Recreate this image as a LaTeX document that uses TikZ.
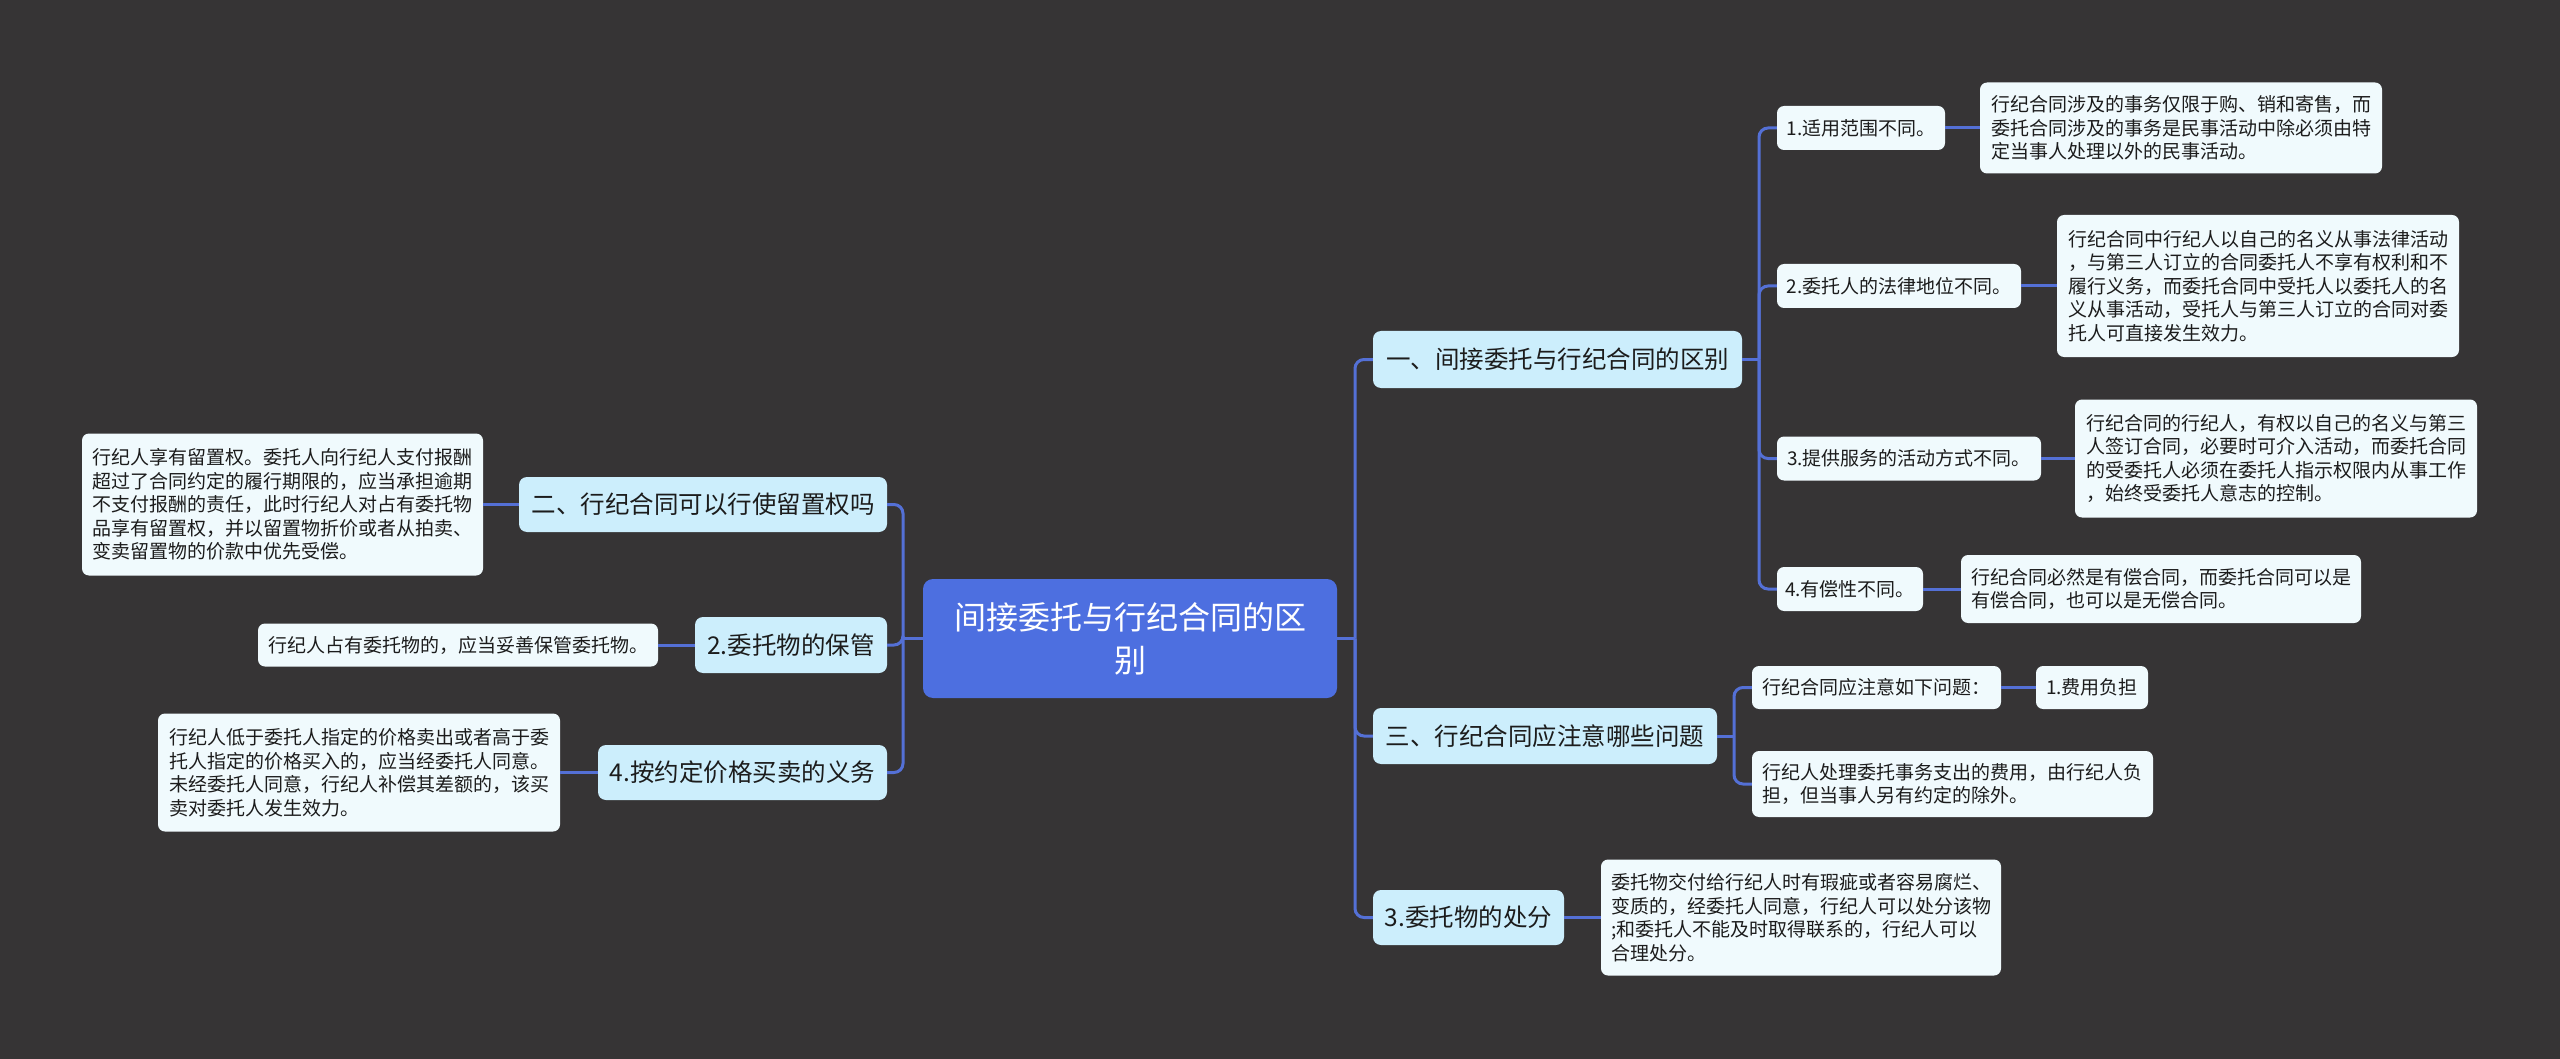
\documentclass[tikz,border=0pt]{standalone}
\usepackage{fontspec}
\setmainfont{Noto Sans CJK SC}
\definecolor{bgc}{RGB}{54,52,53}
\definecolor{rootc}{RGB}{77,111,224}
\definecolor{lvone}{RGB}{204,238,252}
\definecolor{lvtwo}{RGB}{240,250,253}
\definecolor{linec}{RGB}{84,112,214}
\definecolor{txt}{RGB}{28,28,28}
\begin{document}
\begin{tikzpicture}[x=1pt,y=-1pt,
 rootbox/.style={fill=rootc, rounded corners=10pt, text=white, font=\fontsize{32}{43}\selectfont, align=center, inner sep=0pt},
 onebox/.style={fill=lvone, rounded corners=8pt, text=txt, font=\fontsize{24.5}{30}\selectfont, inner sep=0pt},
 twobox/.style={fill=lvtwo, rounded corners=7pt, text=txt, font=\fontsize{19}{23.5}\selectfont, align=left, inner sep=0pt},
 conn/.style={draw=linec, line width=3pt, rounded corners=9pt},
]
\fill[bgc] (0,0) rectangle (2560,1059);
\useasboundingbox (0,0) rectangle (2560,1059);

% root
\node[rootbox, minimum width=414pt, minimum height=119pt] (root) at (1130,638.5) {间接委托与行纪合同的区\\别};

% level one, right
\node[onebox, minimum width=369pt, minimum height=57pt] (n1) at (1557.5,359.5) {一、间接委托与行纪合同的区别};
\node[onebox, minimum width=344pt, minimum height=56pt] (n3) at (1545,736) {三、行纪合同应注意哪些问题};
\node[onebox, minimum width=191pt, minimum height=55pt] (n5) at (1468.5,917.5) {3.委托物的处分};

% level one, left
\node[onebox, minimum width=368pt, minimum height=55pt] (m2) at (703,504.5) {二、行纪合同可以行使留置权吗};
\node[onebox, minimum width=192pt, minimum height=56pt] (m4) at (791,645) {2.委托物的保管};
\node[onebox, minimum width=289pt, minimum height=55pt] (m6) at (742.5,772.5) {4.按约定价格买卖的义务};

% level two under n1
\node[twobox, minimum width=168pt, minimum height=44pt] (c1) at (1861,128) {1.适用范围不同。};
\node[twobox, minimum width=244pt, minimum height=44pt] (c2) at (1899,286) {2.委托人的法律地位不同。};
\node[twobox, minimum width=264pt, minimum height=44pt] (c3) at (1909,458.5) {3.提供服务的活动方式不同。};
\node[twobox, minimum width=146pt, minimum height=44pt] (c4) at (1850,589) {4.有偿性不同。};

% leaves under n1
\node[twobox, minimum width=402pt, minimum height=91pt] (l1) at (2181,128) {行纪合同涉及的事务仅限于购、销和寄售，而\\委托合同涉及的事务是民事活动中除必须由特\\定当事人处理以外的民事活动。};
\node[twobox, minimum width=402pt, minimum height=142pt] (l2) at (2258,286) {行纪合同中行纪人以自己的名义从事法律活动\\，与第三人订立的合同委托人不享有权利和不\\履行义务，而委托合同中受托人以委托人的名\\义从事活动，受托人与第三人订立的合同对委\\托人可直接发生效力。};
\node[twobox, minimum width=402pt, minimum height=118pt] (l3) at (2276,458.5) {行纪合同的行纪人，有权以自己的名义与第三\\人签订合同，必要时可介入活动，而委托合同\\的受委托人必须在委托人指示权限内从事工作\\，始终受委托人意志的控制。};
\node[twobox, minimum width=400pt, minimum height=68pt] (l4) at (2161,589) {行纪合同必然是有偿合同，而委托合同可以是\\有偿合同，也可以是无偿合同。};

% under n3
\node[twobox, minimum width=249pt, minimum height=43pt] (a1) at (1876.5,687.5) {行纪合同应注意如下问题：};
\node[twobox, minimum width=112pt, minimum height=43pt] (b1) at (2092,687.5) {1.费用负担};
\node[twobox, minimum width=401pt, minimum height=66pt] (a2) at (1952.5,784) {行纪人处理委托事务支出的费用，由行纪人负\\担，但当事人另有约定的除外。};

% under n5
\node[twobox, minimum width=400pt, minimum height=116pt] (d1) at (1801,917.5) {委托物交付给行纪人时有瑕疵或者容易腐烂、\\变质的，经委托人同意，行纪人可以处分该物\\;和委托人不能及时取得联系的，行纪人可以\\合理处分。};

% left leaves
\node[twobox, minimum width=401pt, minimum height=142pt] (k1) at (282.5,504.5) {行纪人享有留置权。委托人向行纪人支付报酬\\超过了合同约定的履行期限的，应当承担逾期\\不支付报酬的责任，此时行纪人对占有委托物\\品享有留置权，并以留置物折价或者从拍卖、\\变卖留置物的价款中优先受偿。};
\node[twobox, minimum width=400pt, minimum height=43pt] (k2) at (458,645) {行纪人占有委托物的，应当妥善保管委托物。};
\node[twobox, minimum width=402pt, minimum height=118pt] (k3) at (359,772.5) {行纪人低于委托人指定的价格卖出或者高于委\\托人指定的价格买入的，应当经委托人同意。\\未经委托人同意，行纪人补偿其差额的，该买\\卖对委托人发生效力。};

% junctions
\coordinate (jR) at (1355,638.5);
\coordinate (jL) at (903,638.5);
\coordinate (j1) at (1759,359.5);
\coordinate (j3) at (1734,736);

% connectors
\draw[conn] (root.east) -- (jR);
\draw[conn] (jR) |- (n1.west);
\draw[conn] (jR) |- (n3.west);
\draw[conn] (jR) |- (n5.west);
\draw[conn] (root.west) -- (jL);
\draw[conn] (jL) |- (m2.east);
\draw[conn] (jL) |- (m4.east);
\draw[conn] (jL) |- (m6.east);

\draw[conn] (n1.east) -- (j1);
\draw[conn] (j1) |- (c1.west);
\draw[conn] (j1) |- (c2.west);
\draw[conn] (j1) |- (c3.west);
\draw[conn] (j1) |- (c4.west);
\draw[conn] (c1.east) -- (l1.west);
\draw[conn] (c2.east) -- (l2.west);
\draw[conn] (c3.east) -- (l3.west);
\draw[conn] (c4.east) -- (l4.west);

\draw[conn] (n3.east) -- (j3);
\draw[conn] (j3) |- (a1.west);
\draw[conn] (j3) |- (a2.west);
\draw[conn] (a1.east) -- (b1.west);

\draw[conn] (n5.east) -- (d1.west);

\draw[conn] (m2.west) -- (k1.east);
\draw[conn] (m4.west) -- (k2.east);
\draw[conn] (m6.west) -- (k3.east);
\end{tikzpicture}
\end{document}
